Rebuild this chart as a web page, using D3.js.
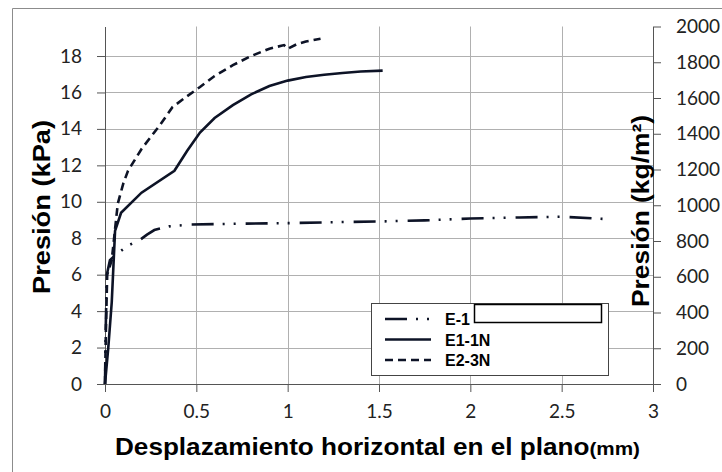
<!DOCTYPE html>
<html>
<head>
<meta charset="utf-8">
<script src="https://cdn.jsdelivr.net/npm/d3@7"></script>
<style>
body { margin: 0; background: #fff; }
svg { display: block; }
.tick text { font-family: Lato, "Open Sans", sans-serif; font-size: 19px; fill: #222; }
.title { font-family: "Liberation Sans", Arial, sans-serif; font-weight: bold; fill: #000; }
.legend text { font-family: "Liberation Sans", Arial, sans-serif; font-weight: bold; font-size: 16px; }
</style>
</head>
<body>
<svg width="722" height="472"></svg>
<script>
// series (desplazamiento mm, presion kPa)
var e1X = [0, 0.004, 0.01, 0.027, 0.06, 0.126, 0.19, 0.23, 0.27, 0.35, 0.47, 0.75, 1.01, 1.25, 1.5, 1.75, 2.0, 2.27, 2.5, 2.75];
var e1Y = [0, 3.0, 6.0, 6.8, 7.1, 7.6, 7.9, 8.2, 8.45, 8.65, 8.75, 8.8, 8.83, 8.88, 8.92, 8.98, 9.08, 9.14, 9.18, 9.05];
var e11X = [0, 0.018, 0.037, 0.055, 0.088, 0.2, 0.38, 0.45, 0.52, 0.6, 0.7, 0.8, 0.9, 1.0, 1.1, 1.2, 1.3, 1.4, 1.52];
var e11Y = [0, 2.0, 4.5, 8.4, 9.4, 10.5, 11.7, 12.8, 13.8, 14.6, 15.3, 15.9, 16.35, 16.65, 16.85, 16.97, 17.07, 17.15, 17.2];
var e23X = [0, 0.005, 0.012, 0.037, 0.07, 0.1, 0.126, 0.2, 0.3, 0.37, 0.45, 0.52, 0.6, 0.7, 0.8, 0.9, 0.98, 1.0, 1.05, 1.1, 1.18];
var e23Y = [0, 3.0, 6.0, 6.8, 9.9, 11.0, 11.7, 12.9, 14.2, 15.2, 15.8, 16.3, 16.9, 17.5, 18.0, 18.4, 18.6, 18.4, 18.65, 18.8, 18.95];
var seriesNames = ["E-1", "E1-1N", "E2-3N"];
var dashes = ["22,9,2,9,2,10", null, "8,5"];
var xTicks = [0, 0.5, 1, 1.5, 2, 2.5, 3];
var kpaTicks = [0, 2, 4, 6, 8, 10, 12, 14, 16, 18];
var kgTicks = [0, 200, 400, 600, 800, 1000, 1200, 1400, 1600, 1800, 2000];

var svg = d3.select("svg");
var lineColor = "#0d1326";
var plotL = 105, plotR = 653, plotB = 384, plotT = 26.5;

var x = d3.scaleLinear().domain([0, 3]).range([plotL, plotR]);
var y = d3.scaleLinear().domain([0, 2000 * 9.81 / 1000]).range([plotB, plotT]);
var y2 = d3.scaleLinear().domain([0, 2000]).range([plotB, plotT]);

// outer frame (only top and left visible)
svg.append("path").attr("d", "M12.5,472V8.5H722").attr("fill", "none").attr("stroke", "#8c8c8c");

// grid
svg.append("g").selectAll("line").data(kpaTicks.slice(1)).enter().append("line")
  .attr("x1", plotL).attr("x2", plotR)
  .attr("y1", function(d){ return Math.round(y(d)) + 0.5; })
  .attr("y2", function(d){ return Math.round(y(d)) + 0.5; })
  .attr("stroke", "#b0b0b0");
svg.append("g").selectAll("line").data(xTicks.slice(1, -1)).enter().append("line")
  .attr("y1", plotT).attr("y2", plotB)
  .attr("x1", function(d){ return Math.round(x(d)) + 0.5; })
  .attr("x2", function(d){ return Math.round(x(d)) + 0.5; })
  .attr("stroke", "#b0b0b0");

// axes
function styleAxis(g) {
  g.selectAll("path.domain, line").attr("stroke", "#555");
}
svg.append("g").attr("transform", "translate(0," + plotB + ")")
  .call(d3.axisBottom(x).tickValues(xTicks).tickFormat(d3.format("")).tickSize(8).tickSizeOuter(0).tickPadding(13))
  .call(styleAxis);
svg.append("g").attr("transform", "translate(" + plotL + ",0)")
  .call(d3.axisLeft(y).tickValues(kpaTicks).tickSize(8).tickSizeOuter(0).tickPadding(15))
  .call(styleAxis);
svg.append("g").attr("transform", "translate(" + plotR + ",0)")
  .call(d3.axisRight(y2).tickValues(kgTicks).tickFormat(d3.format("d")).tickSize(8).tickSizeOuter(0).tickPadding(15))
  .call(styleAxis);
svg.selectAll(".tick text").attr("fill", "#222");

// curves
var line = d3.line().x(function(d){ return x(d[0]); }).y(function(d){ return y(d[1]); });
var series = [d3.zip(e1X, e1Y), d3.zip(e11X, e11Y), d3.zip(e23X, e23Y)];
series.forEach(function(s, i){
  svg.append("path").datum(s)
    .attr("d", line)
    .attr("fill", "none")
    .attr("stroke", lineColor)
    .attr("stroke-width", 2.6)
    .attr("stroke-dasharray", dashes[i]);
});

// titles
svg.append("text").attr("class", "title")
  .attr("transform", "translate(50,207) rotate(-90)")
  .attr("text-anchor", "middle").attr("font-size", 24)
  .attr("textLength", 174).attr("lengthAdjust", "spacingAndGlyphs")
  .text("Presión (kPa)");
svg.append("text").attr("class", "title")
  .attr("transform", "translate(649,211) rotate(-90)")
  .attr("text-anchor", "middle").attr("font-size", 24)
  .attr("textLength", 192).attr("lengthAdjust", "spacingAndGlyphs")
  .text("Presión (kg/m²)");
var xt = svg.append("text").attr("class", "title")
  .attr("x", 115).attr("y", 455).attr("font-size", 24)
  .attr("textLength", 525).attr("lengthAdjust", "spacingAndGlyphs");
xt.append("tspan").text("Desplazamiento horizontal en el plano");
xt.append("tspan").attr("font-size", 19).text("(mm)");

// legend
var lg = svg.append("g").attr("class", "legend");
lg.append("rect").attr("x", 371.5).attr("y", 303.5).attr("width", 237).attr("height", 72)
  .attr("fill", "#fff").attr("stroke", "#444");
seriesNames.forEach(function(n, i){
  var ly = 319 + i * 20.5;
  lg.append("line").attr("x1", 385).attr("x2", 431).attr("y1", ly).attr("y2", ly)
    .attr("stroke", lineColor).attr("stroke-width", 2.6)
    .attr("stroke-dasharray", dashes[i]);
  lg.append("text").attr("x", 445).attr("y", ly + 6).text(n);
});
// white patch covering part of the first label
lg.append("rect").attr("x", 474.5).attr("y", 304.5).attr("width", 127).attr("height", 18)
  .attr("fill", "#fff").attr("stroke", "#000").attr("stroke-width", 1.5);
</script>
</body>
</html>
